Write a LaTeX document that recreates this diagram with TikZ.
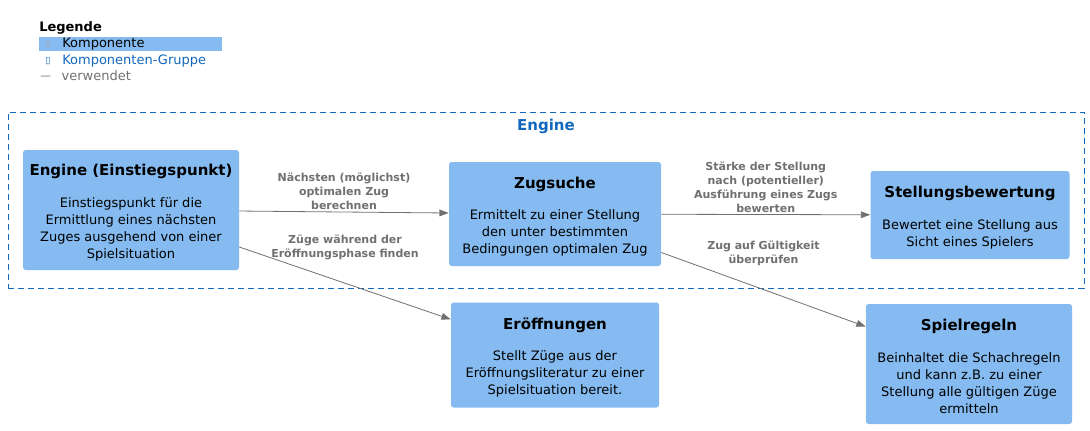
\documentclass[tikz,border=0pt]{standalone}
\usepackage{fontspec}
\setmainfont{DejaVu Sans}
\usetikzlibrary{arrows.meta,positioning}

\definecolor{kompblau}{HTML}{85BBF0}
\definecolor{gruppenblau}{HTML}{1168BD}
\definecolor{pfeilgrau}{HTML}{707070}

\newcommand{\ktitel}[1]{{\fontsize{11.25}{14}\selectfont\bfseries\rule{0pt}{12.5pt}#1}\\[11pt]}

\begin{document}
\begin{tikzpicture}[x=0.75pt, y=-0.75pt,
        komp/.style={fill=kompblau, rounded corners=2pt, align=center, inner sep=0pt,
            font=\fontsize{9.75}{12.75}\selectfont},
        kante/.style={-{Triangle[length=7pt, width=5pt]}, draw=pfeilgrau, line width=0.6pt},
        kantentext/.style={font=\fontsize{8.25}{10.5}\selectfont\bfseries, text=pfeilgrau, align=center},
        legtext/.style={font=\fontsize{9.75}{12}\selectfont, anchor=west, inner sep=0pt}]

    \useasboundingbox (0,0) rectangle (1090,430);

    % === Legende ===
    \node[font=\fontsize{9.75}{12}\selectfont\bfseries, anchor=west, inner sep=0pt] (legende) at (39,28) {Legende};
    \node[fill=kompblau, minimum width=137.25pt, minimum height=10.5pt, inner sep=0pt, anchor=north west] (legkomp) at (39,37) {};
    \node[legtext, text=gray!70, font=\fontsize{7}{8}\selectfont] (legkompsym) at (45,44) {▯};
    \node[legtext] (legkomptext) at (62,44) {Komponente};
    \node[legtext, text=gruppenblau, font=\fontsize{7}{8}\selectfont] (leggruppesym) at (45,61) {▯};
    \node[legtext, text=gruppenblau] (leggruppetext) at (62,61) {Komponenten-Gruppe};
    \node[legtext, text=pfeilgrau] (legkante) at (40,76) {\raisebox{1pt}{\fontsize{8}{9}\selectfont—}\hspace{8pt}verwendet};

    % === Gruppe Engine ===
    \node[draw=gruppenblau, dash pattern=on 4.5pt off 3pt, line width=0.6pt,
        minimum width=807pt, minimum height=132pt, inner sep=0pt] (gruppe) at (546,200) {};
    \node[text=gruppenblau, font=\fontsize{11.25}{13}\selectfont\bfseries] (gruppentitel) at (546,126) {Engine};

    % === Komponenten ===
    \node[komp, minimum width=162pt, minimum height=90pt] (engine) at (131,210)
        {\ktitel{Engine (Einstiegspunkt)}Einstiegspunkt für die\\Ermittlung eines nächsten\\Zuges ausgehend von einer\\Spielsituation};
    \node[komp, minimum width=159pt, minimum height=78pt] (zugsuche) at (555,214)
        {\ktitel{Zugsuche}Ermittelt zu einer Stellung\\den unter bestimmten\\Bedingungen optimalen Zug};
    \node[komp, minimum width=149.25pt, minimum height=66pt] (bewertung) at (970,215)
        {\ktitel{Stellungsbewertung}Bewertet eine Stellung aus\\Sicht eines Spielers};
    \node[komp, minimum width=156pt, minimum height=78.75pt] (eroeffnungen) at (555,355)
        {\ktitel{Eröffnungen}Stellt Züge aus der\\Eröffnungsliteratur zu einer\\Spielsituation bereit.};
    \node[komp, minimum width=154.5pt, minimum height=90pt] (spielregeln) at (969,364)
        {\ktitel{Spielregeln}Beinhaltet die Schachregeln\\und kann z.B. zu einer\\Stellung alle gültigen Züge\\ermitteln};

    % Pfeile
    \draw[kante] (engine) -- node[kantentext, yshift=15.75pt] (lab1) {Nächsten (möglichst)\\optimalen Zug\\berechnen} (zugsuche);
    \draw[kante] (engine) -- node[kantentext, yshift=27pt] (lab2) {Züge während der\\Eröffnungsphase finden} (eroeffnungen);
    \draw[kante] (zugsuche) -- node[kantentext, yshift=20.6pt] (lab3) {Stärke der Stellung\\nach (potentieller)\\Ausführung eines Zugs\\bewerten} (bewertung);
    \draw[kante] (zugsuche) -- node[kantentext, yshift=27pt] (lab4) {Zug auf Gültigkeit\\überprüfen} (spielregeln);

\end{tikzpicture}
\end{document}
